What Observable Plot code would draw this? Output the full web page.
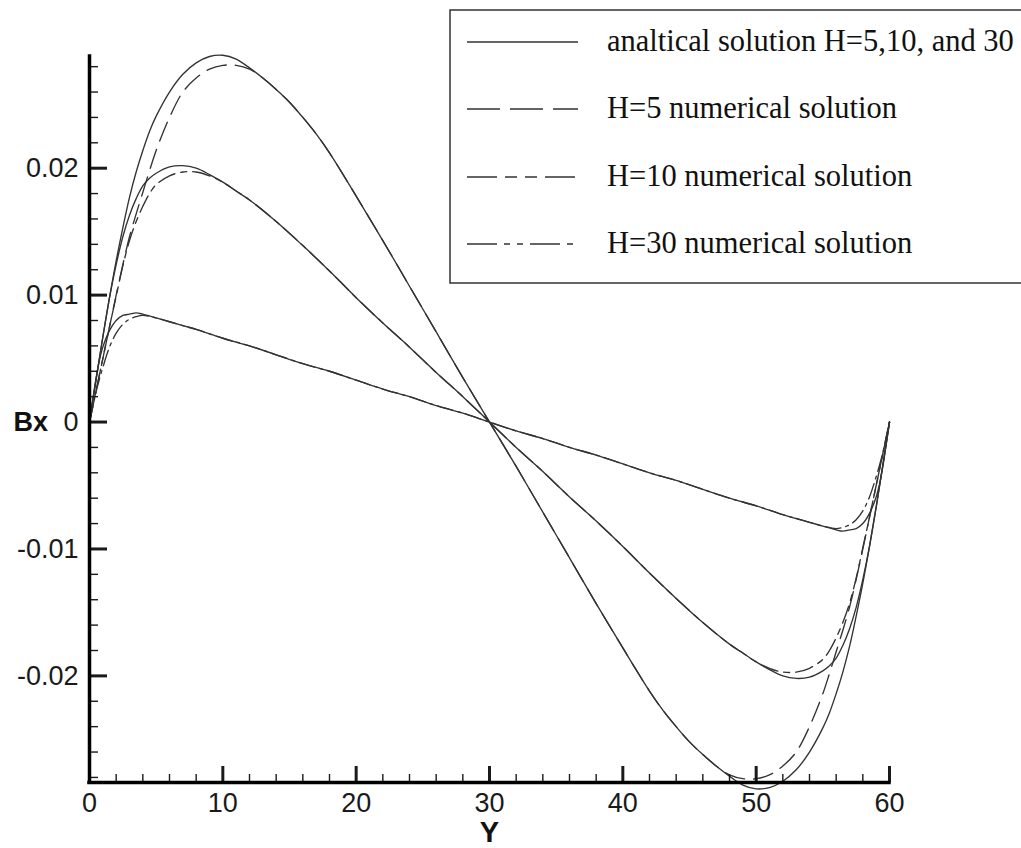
<!DOCTYPE html>
<html><head><meta charset="utf-8">
<script src="https://cdn.jsdelivr.net/npm/d3@7"></script>
<script src="https://cdn.jsdelivr.net/npm/@observablehq/plot@0.6"></script>
<style>
html,body{margin:0;padding:0;background:#fff;overflow:hidden;}
#wrap{position:relative;width:1021px;height:848px;overflow:hidden;}
#wrap svg.overlay{position:absolute;left:0;top:0;pointer-events:none;}
</style></head><body><div id="wrap"></div>
<script>
// ---- data ----
const xBig = [0,0.5,1,1.5,2,2.5,3,3.5,4,4.5,5,6,7,8,9,10,11,12,13,14,15,16,17,18,20,22,24,26,28,30,
  32,34,36,38,40,42,43,44,45,46,47,48,49,50,51,52,53,54,55,55.5,56,56.5,57,57.5,58,58.5,59,59.5,60];
const yA5 = [0,0.0034,0.0067,0.0098,0.0127,0.0153,0.0177,0.0197,0.0214,0.0229,0.0241,0.0260,0.0274,0.0283,0.0288,0.0289,0.0286,0.0279,0.0271,0.0262,0.0252,0.0240,0.0227,0.0212,0.0178,0.0143,0.0107,0.0071,0.0035,0,
  -0.0035,-0.0071,-0.0107,-0.0143,-0.0178,-0.0212,-0.0227,-0.0240,-0.0252,-0.0262,-0.0271,-0.0279,-0.0286,-0.0289,-0.0288,-0.0283,-0.0274,-0.0260,-0.0241,-0.0229,-0.0214,-0.0197,-0.0177,-0.0153,-0.0127,-0.0098,-0.0067,-0.0034,0];
const yN5 = [0,0.0025,0.0050,0.0075,0.0100,0.0124,0.0146,0.0164,0.0181,0.0198,0.0214,0.0240,0.0260,0.0271,0.0278,0.0281,0.0281,0.0278,0.0271,0.0262,0.0252,0.0240,0.0227,0.0212,0.0178,0.0143,0.0107,0.0071,0.0035,0,
  -0.0035,-0.0071,-0.0107,-0.0143,-0.0178,-0.0212,-0.0227,-0.0240,-0.0252,-0.0262,-0.0271,-0.0278,-0.0281,-0.0281,-0.0278,-0.0271,-0.0260,-0.0240,-0.0214,-0.0198,-0.0181,-0.0164,-0.0146,-0.0124,-0.0100,-0.0075,-0.0050,-0.0025,0];

const xMid = [0,0.5,1,1.5,2,2.5,3,3.5,4,4.5,5,6,7,8,9,10,11,12,14,16,18,20,22,24,26,28,30,
  32,34,36,38,40,42,44,46,48,49,50,51,52,53,54,55,55.5,56,56.5,57,57.5,58,58.5,59,59.5,60];
const yA10 = [0,0.0034,0.0067,0.0098,0.0124,0.0146,0.0163,0.0176,0.0186,0.0192,0.0196,0.0201,0.0202,0.0200,0.0195,0.0189,0.0182,0.0175,0.0158,0.0139,0.0119,0.0098,0.0078,0.0059,0.0039,0.0020,0,
  -0.0020,-0.0039,-0.0059,-0.0078,-0.0098,-0.0119,-0.0139,-0.0158,-0.0175,-0.0182,-0.0189,-0.0195,-0.0200,-0.0202,-0.0201,-0.0196,-0.0192,-0.0186,-0.0176,-0.0163,-0.0146,-0.0124,-0.0098,-0.0067,-0.0034,0];
const yN10 = [0,0.0025,0.0050,0.0075,0.0099,0.0123,0.0143,0.0158,0.0170,0.0180,0.0187,0.0194,0.0197,0.0197,0.0194,0.0189,0.0182,0.0175,0.0158,0.0139,0.0119,0.0098,0.0078,0.0059,0.0039,0.0020,0,
  -0.0020,-0.0039,-0.0059,-0.0078,-0.0098,-0.0119,-0.0139,-0.0158,-0.0175,-0.0182,-0.0189,-0.0194,-0.0197,-0.0197,-0.0194,-0.0187,-0.0180,-0.0170,-0.0158,-0.0143,-0.0123,-0.0099,-0.0075,-0.0050,-0.0025,0];

const xSmall = [0,0.25,0.5,0.75,1,1.5,2,2.5,3,3.5,4,5,6,7,8,10,12,14,16,18,20,22,24,26,28,30,
  32,34,36,38,40,42,44,46,48,50,52,53,54,55,56,56.5,57,57.5,58,58.5,59,59.25,59.5,59.75,60];
const yA30 = [0,0.0018,0.0035,0.0049,0.0059,0.0072,0.0080,0.0084,0.0085,0.0086,0.0085,0.0082,0.0079,0.0076,0.0073,0.0066,0.0060,0.0053,0.0046,0.0040,0.0033,0.0026,0.0020,0.0013,0.0007,0,
  -0.0007,-0.0013,-0.0020,-0.0026,-0.0033,-0.0040,-0.0046,-0.0053,-0.0060,-0.0066,-0.0073,-0.0076,-0.0079,-0.0082,-0.0085,-0.0086,-0.0085,-0.0084,-0.0080,-0.0072,-0.0059,-0.0049,-0.0035,-0.0018,0];
const yN30 = [0,0.0012,0.0024,0.0034,0.0043,0.0059,0.0070,0.0077,0.0081,0.0083,0.0084,0.0082,0.0079,0.0076,0.0073,0.0066,0.0060,0.0053,0.0046,0.0040,0.0033,0.0026,0.0020,0.0013,0.0007,0,
  -0.0007,-0.0013,-0.0020,-0.0026,-0.0033,-0.0040,-0.0046,-0.0053,-0.0060,-0.0066,-0.0073,-0.0076,-0.0079,-0.0082,-0.0084,-0.0083,-0.0081,-0.0077,-0.0070,-0.0059,-0.0043,-0.0034,-0.0024,-0.0012,0];

const xMajor = [0,10,20,30,40,50,60];
const xMinor = [2,4,6,8,12,14,16,18,22,24,26,28,32,34,36,38,42,44,46,48,52,54,56,58];
const yMajor = [-0.02,-0.01,0,0.01,0.02];
const yMajorLabels = ["-0.02","-0.01","0","0.01","0.02"];
const yMinor = [-0.028,-0.026,-0.024,-0.022,-0.018,-0.016,-0.014,-0.012,-0.008,-0.006,-0.004,-0.002,
  0.002,0.004,0.006,0.008,0.012,0.014,0.016,0.018,0.022,0.024,0.026,0.028];
const yDomain = [-0.0284, 0.0288];
const xDomain = [0, 60];

const legendLabels = ["analtical solution H=5,10, and 30","H=5 numerical solution","H=10 numerical solution","H=30 numerical solution"];
const xAxisTitle = "Y";
const yAxisTitle = "Bx";

// ---- series ----
const lineColor = "#333";
const series = [
  {x: xBig, y: yA5, dash: null},
  {x: xMid, y: yA10, dash: null},
  {x: xSmall, y: yA30, dash: null},
  {x: xBig, y: yN5, dash: "20,9"},
  {x: xMid, y: yN10, dash: "18,6,6,6"},
  {x: xSmall, y: yN30, dash: "16,5,3,5"}
];
const legendDash = [null, "33,10", "30,8,12,8,12,8", "30,7,6,7,6,7"];

const plot = Plot.plot({
  width: 1021, height: 848,
  marginLeft: 89, marginRight: 132, marginTop: 56, marginBottom: 66,
  x: {domain: xDomain},
  y: {domain: yDomain},
  style: {fontFamily: "'Liberation Sans', Arial, sans-serif", fontSize: "27px", color: "#1a1a1a", background: "#fff"},
  marks: [
    ...series.map(s => Plot.line(s.x.map((x, i) => ({x, y: s.y[i]})), {
      x: "x", y: "y", stroke: lineColor, strokeWidth: 1.35,
      strokeDasharray: s.dash, curve: "catmull-rom"
    })),
    Plot.axisX({ticks: xMajor, tickSize: 0, tickPadding: 10, tickFormat: d => String(d), label: null}),
    Plot.axisX({ticks: xMajor, tickSize: -16, strokeWidth: 3, tickFormat: () => "", label: null}),
    Plot.axisX({ticks: xMinor, tickSize: -8, strokeWidth: 1.4, tickFormat: () => "", label: null}),
    Plot.axisY({ticks: yMajor, tickSize: 0, tickPadding: 11, tickFormat: d => yMajorLabels[yMajor.indexOf(d)], label: null}),
    Plot.axisY({ticks: yMajor, tickSize: -18, strokeWidth: 3, tickFormat: () => "", label: null}),
    Plot.axisY({ticks: yMinor, tickSize: -9, strokeWidth: 1.4, tickFormat: () => "", label: null}),
    Plot.ruleX([xDomain[0]], {stroke: "#000", strokeWidth: 3.5, strokeLinecap: "square"}),
    Plot.ruleY([yDomain[0]], {stroke: "#000", strokeWidth: 3.5, strokeLinecap: "square"}),
    Plot.text([yAxisTitle], {y: [0], text: d => d, frameAnchor: "left", dx: -76, textAnchor: "start",
      fontWeight: "bold", fontSize: 27, fill: "#111"}),
    Plot.text([xAxisTitle], {x: [30], text: d => d, frameAnchor: "bottom", dy: 59, lineAnchor: "bottom",
      fontWeight: "bold", fontSize: 29, fill: "#111"})
  ]
});
const wrap = document.getElementById("wrap");
wrap.appendChild(plot);

// ---- legend overlay ----
const svg = d3.select(wrap).append("svg").attr("class", "overlay")
  .attr("width", 1021).attr("height", 848);
svg.append("rect").attr("x", 450).attr("y", 10).attr("width", 620).attr("height", 273)
  .attr("fill", "#fff").attr("stroke", "#333").attr("stroke-width", 1.5);
const rowY = [42, 109, 177, 244];
legendLabels.forEach((lab, i) => {
  svg.append("line").attr("x1", 467).attr("x2", 578).attr("y1", rowY[i]).attr("y2", rowY[i])
    .attr("stroke", lineColor).attr("stroke-width", 1.4)
    .attr("stroke-dasharray", legendDash[i]);
  svg.append("text").attr("x", 607).attr("y", rowY[i] + 9)
    .attr("font-family", "'Liberation Serif', 'Times New Roman', serif")
    .attr("font-size", 30.5).attr("fill", "#111").text(lab);
});
</script></body></html>
